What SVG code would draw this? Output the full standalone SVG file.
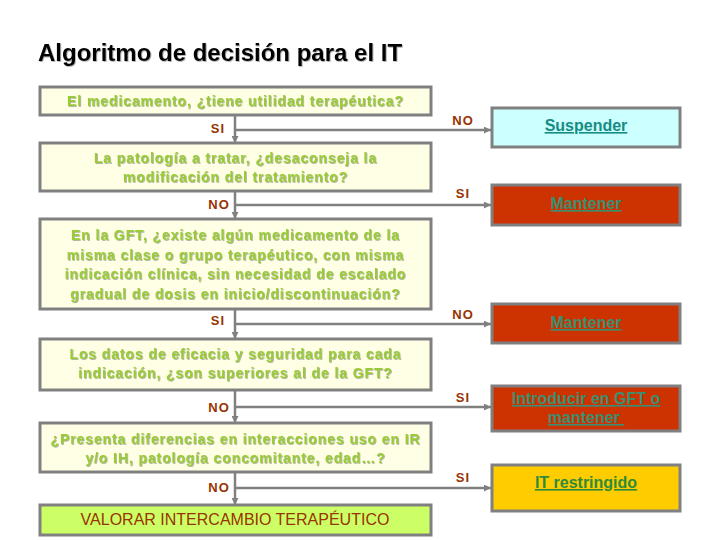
<svg xmlns="http://www.w3.org/2000/svg" width="720" height="540" viewBox="0 0 720 540">
<defs>
<marker id="arr" viewBox="0 0 8 8" refX="8" refY="4" markerWidth="7" markerHeight="7" markerUnits="userSpaceOnUse" orient="auto">
<path d="M0,0 L8,4 L0,8 Z" fill="#808080"/>
</marker>
<filter id="sh" x="-5%" y="-20%" width="110%" height="140%">
<feDropShadow dx="0.8" dy="0.8" stdDeviation="0.3" flood-color="#555" flood-opacity="0.55"/>
</filter>
<style>
.q{fill:#ffffe6;stroke:#808080;stroke-width:3}
.qt{font-family:"Liberation Sans",Arial,sans-serif;font-weight:bold;font-size:14px;fill:#99cc33;text-anchor:middle;letter-spacing:0.9px;filter:url(#sh)}
.lb{font-family:"Liberation Sans",Arial,sans-serif;font-weight:bold;font-size:13px;fill:#993300;text-anchor:middle;letter-spacing:1px}
.r{stroke:#808080;stroke-width:3}
.rt{font-family:"Liberation Sans",Arial,sans-serif;font-weight:bold;font-size:16px;text-anchor:middle;text-decoration:underline}
.c{fill:none;stroke:#808080;stroke-width:2.5}
</style>
</defs>
<rect width="720" height="540" fill="#ffffff"/>
<text x="38" y="61" font-family="'Liberation Sans',Arial,sans-serif" font-weight="bold" font-size="24" fill="#000" filter="url(#sh)">Algoritmo de decisión para el IT</text>

<g id="connectors">
<path class="c" d="M235,115 V143" marker-end="url(#arr)"/>
<path class="c" d="M235,191 V219" marker-end="url(#arr)"/>
<path class="c" d="M235,309 V339" marker-end="url(#arr)"/>
<path class="c" d="M235,390 V423" marker-end="url(#arr)"/>
<path class="c" d="M235,472 V505" marker-end="url(#arr)"/>
<path class="c" d="M235,130 H491" marker-end="url(#arr)"/>
<path class="c" d="M235,205 H491" marker-end="url(#arr)"/>
<path class="c" d="M235,324 H491" marker-end="url(#arr)"/>
<path class="c" d="M235,407 H491" marker-end="url(#arr)"/>
<path class="c" d="M235,488 H491" marker-end="url(#arr)"/>
<text class="lb" x="218" y="133">SI</text>
<text class="lb" x="219" y="209">NO</text>
<text class="lb" x="218" y="325">SI</text>
<text class="lb" x="219" y="412">NO</text>
<text class="lb" x="219" y="492">NO</text>
<text class="lb" x="463" y="125">NO</text>
<text class="lb" x="463" y="198">SI</text>
<text class="lb" x="463" y="319">NO</text>
<text class="lb" x="463" y="402">SI</text>
<text class="lb" x="463" y="482">SI</text>
</g>

<g id="q1">
<rect class="q" x="40" y="87" width="391" height="28"/>
<text class="qt" x="235.5" y="106">El medicamento, ¿tiene utilidad terapéutica?</text>
</g>
<g id="q2">
<rect class="q" x="40" y="143" width="391" height="48"/>
<text class="qt" x="235.5" y="162.5">La patología a tratar, ¿desaconseja la</text>
<text class="qt" x="235.5" y="182">modificación del tratamiento?</text>
</g>
<g id="q3">
<rect class="q" x="40" y="219" width="391" height="90"/>
<text class="qt" x="235.5" y="240">En la GFT, ¿existe algún medicamento de la</text>
<text class="qt" x="235.5" y="259.5">misma clase o grupo terapéutico, con misma</text>
<text class="qt" x="235.5" y="279">indicación clínica, sin necesidad de escalado</text>
<text class="qt" x="235.5" y="298.5">gradual de dosis en inicio/discontinuación?</text>
</g>
<g id="q4">
<rect class="q" x="40" y="339" width="391" height="51"/>
<text class="qt" x="235.5" y="358.5">Los datos de eficacia y seguridad para cada</text>
<text class="qt" x="235.5" y="378">indicación, ¿son superiores al de la GFT?</text>
</g>
<g id="q5">
<rect class="q" x="40" y="423" width="391" height="49"/>
<text class="qt" x="235.5" y="444">¿Presenta diferencias en interacciones uso en IR</text>
<text class="qt" x="235.5" y="463">y/o IH, patología concomitante, edad…?</text>
</g>
<g id="q6">
<rect x="40" y="505" width="391" height="30" fill="#ccff66" stroke="#808080" stroke-width="3"/>
<text x="235" y="525" font-family="'Liberation Sans',Arial,sans-serif" font-size="16" fill="#993300" text-anchor="middle">VALORAR INTERCAMBIO TERAPÉUTICO</text>
</g>

<g id="r1">
<rect class="r" x="492" y="108" width="188" height="39" fill="#ccffff"/>
<text class="rt" x="586" y="131" fill="#158c84">Suspender</text>
</g>
<g id="r2">
<rect class="r" x="492" y="185" width="188" height="40" fill="#cc3300"/>
<text class="rt" x="586" y="209" fill="#3a8f72">Mantener</text>
</g>
<g id="r3">
<rect class="r" x="492" y="304" width="188" height="39" fill="#cc3300"/>
<text class="rt" x="586" y="328" fill="#3a8f72">Mantener</text>
</g>
<g id="r4">
<rect class="r" x="492" y="386" width="188" height="45" fill="#cc3300"/>
<text class="rt" x="586" y="404" fill="#3a8f72">Introducir en GFT o</text>
<text class="rt" x="586" y="423" fill="#3a8f72" xml:space="preserve">mantener </text>
</g>
<g id="r5">
<rect class="r" x="492" y="465" width="188" height="46" fill="#ffcc00"/>
<text class="rt" x="586" y="488" fill="#2e8b3a">IT restringido</text>
</g>
</svg>
